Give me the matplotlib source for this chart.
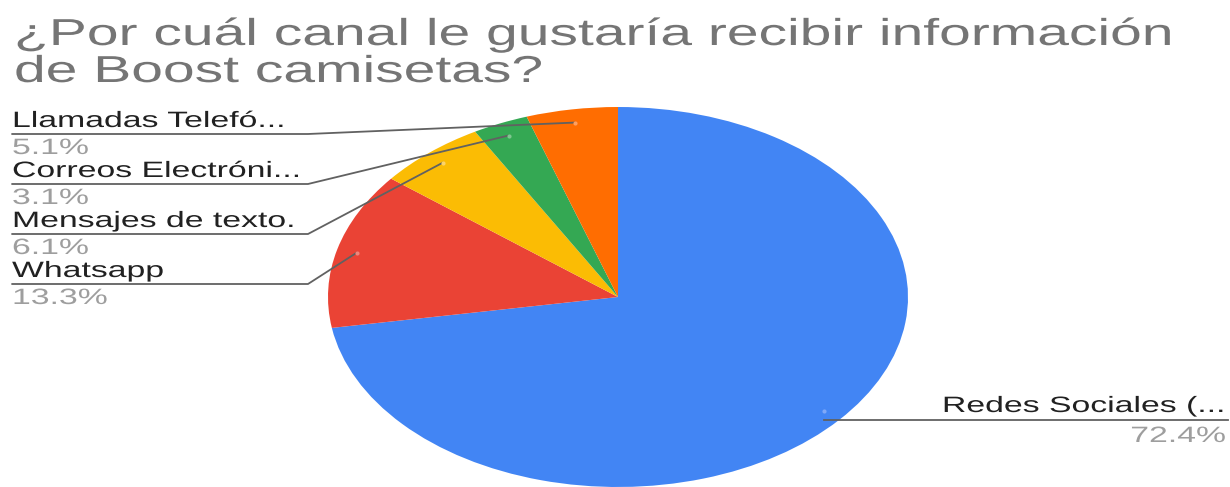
import matplotlib
matplotlib.use('Agg')
import matplotlib.pyplot as plt
import numpy as np
from matplotlib.patheffects import AbstractPathEffect
from matplotlib.transforms import Affine2D

title_lines = ['¿Por cuál canal le gustaría recibir información',
               'de Boost camisetas?']
canales = ['Redes Sociales (...', 'Whatsapp', 'Mensajes de texto.',
           'Correos Electróni...', 'Llamadas Telefó...']
porcentajes = [72.4, 13.3, 6.1, 3.1, 5.1]
colores = ['#4285F4', '#EA4335', '#FBBC04', '#34A853', '#FF6D01']
puntos = ['#7fa8f8', '#f0857a', '#fcd46a', '#7fc690', '#ff9f60']

W, H = 1230, 487
SX = 1.52  # horizontal stretch of the whole chart


class Stretch(AbstractPathEffect):
    """Widen glyphs horizontally around an anchor x (display px)."""
    def __init__(self, sx, x0):
        super().__init__()
        self.sx = sx
        self.x0 = x0

    def draw_path(self, renderer, gc, tpath, affine, rgbFace=None):
        aff = affine + Affine2D().translate(-self.x0, 0).scale(self.sx, 1).translate(self.x0, 0)
        renderer.draw_path(gc, tpath, aff, rgbFace)


def label(ov, x, y, s, size, color, ha='left'):
    ov.text(x, y, s, fontsize=size, color=color, ha=ha, va='baseline',
            path_effects=[Stretch(SX, x)])


def main():
    plt.rcParams['font.family'] = ['Liberation Sans', 'DejaVu Sans']
    fig = plt.figure(figsize=(W / 100, H / 100), dpi=100)
    fig.patch.set_facecolor('white')

    # pie drawn as an ellipse: axes box is wider than tall
    cx, cy, rx, ry = 618, 297, 290, 190
    ax = fig.add_axes([(cx - rx) / W, (H - cy - ry) / H, 2 * rx / W, 2 * ry / H])
    wedges, _ = ax.pie(porcentajes, colors=colores, startangle=90,
                       counterclock=False, radius=1.0,
                       wedgeprops=dict(linewidth=0))
    ax.set_aspect('auto')
    ax.set_xlim(-1, 1)
    ax.set_ylim(-1, 1)
    ax.axis('off')

    # overlay in pixel units for labels and leader lines
    ov = fig.add_axes([0, 0, 1, 1], zorder=5)
    ov.set_xlim(0, W)
    ov.set_ylim(H, 0)
    ov.axis('off')
    ov.patch.set_alpha(0)

    label(ov, 14, 45, title_lines[0], 27, '#757575')
    label(ov, 14, 82, title_lines[1], 27, '#757575')

    fig.canvas.draw()
    to_px = ov.transData.inverted()

    def dot(i):
        w = wedges[i]
        mid = np.deg2rad((w.theta1 + w.theta2) / 2)
        disp = ax.transData.transform((0.93 * np.cos(mid), 0.93 * np.sin(mid)))
        return to_px.transform(disp)

    # left side labels, top to bottom
    izquierda = [4, 3, 2, 1]
    for k, i in enumerate(izquierda):
        base = 127 + 50 * k
        ly = base + 7
        px, py = dot(i)
        ov.plot([12, 308, px], [ly, ly, py], color='#616161', lw=1.3,
                solid_capstyle='round')
        ov.plot(px, py, 'o', ms=3, color=puntos[i], mec='none')
        label(ov, 12, base, canales[i], 16, '#212121')
        label(ov, 12, base + 27, '{0:.1f}%'.format(porcentajes[i]), 16, '#9e9e9e')

    # right side label
    px, py = dot(0)
    ov.plot([px, 1228], [420, 420], color='#616161', lw=1.3)
    ov.plot(px, py, 'o', ms=3, color=puntos[0], mec='none')
    label(ov, 1226, 412, canales[0], 16, '#212121', ha='right')
    label(ov, 1226, 442, '{0:.1f}%'.format(porcentajes[0]), 16, '#9e9e9e', ha='right')

    fig.savefig('out.png', dpi=100, facecolor='white')


if __name__ == '__main__':
    main()
